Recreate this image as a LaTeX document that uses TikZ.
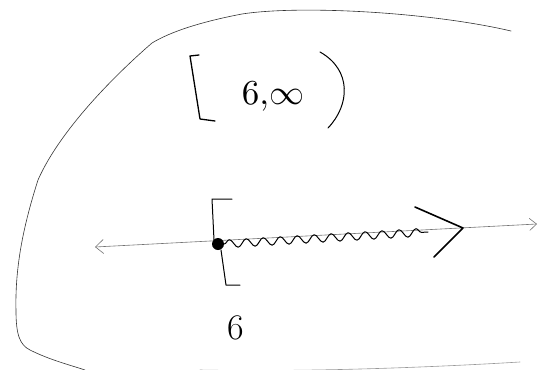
\documentclass[tikz,border=0pt]{standalone}
\usetikzlibrary{decorations.pathmorphing,arrows.meta}
\begin{document}
\begin{tikzpicture}[x=1pt,y=-1pt,
  pen/.style={line width=1.3pt,line cap=round,line join=round},
  thin pen/.style={line width=0.6pt,draw=black!70,line cap=round},
  txt/.style={inner sep=0pt,font=\fontsize{36}{40}\selectfont},
  mtxt/.style={inner sep=0pt,scale=3.5}]
\useasboundingbox (0,0) rectangle (539,370);
% boundary
\draw[thin pen,draw=black!80] (511,31) .. controls (430,12) and (300,5) .. (242,14)
  .. controls (200,22) and (170,32) .. (152,43)
  .. controls (115,75) and (60,130) .. (38,180)
  .. controls (22,230) and (15,270) .. (16,311)
  .. controls (16,335) and (20,345) .. (30,350)
  .. controls (50,360) and (70,365) .. (85,370);
\draw[thin pen,draw=black!40] (200,370) .. controls (300,372) and (420,368) .. (520,362);
% interval notation
\draw[pen] (199,55) -- (190,56) -- (200,119) -- (215,121);
\node[mtxt] (int) at (273,97) {$6,\!\infty$};
\draw[pen,line width=1pt] (320,52) .. controls (352,70) and (350,105) .. (328,128);
% number line
\coordinate (L) at (95,247);
\coordinate (R) at (537,224);
\draw[thin pen,draw=black!55,{Straight Barb[length=8pt,width=14pt]}-{Straight Barb[length=7pt,width=12pt]}] (L) -- (R);
\node[circle,fill=black,inner sep=0pt,minimum size=12pt] (dot) at (218,244) {};
\coordinate (W) at (428,232);
\draw[pen,line width=1pt,decorate,decoration={snake,segment length=17pt,amplitude=4pt}] (dot.east) -- (W);
% closed bracket at dot
\draw[pen,line width=1pt] (232,199) -- (212,199) -- (214,240);
\draw[pen,line width=1pt] (221,250) -- (226,285) -- (240,285);
% shading arrow
\draw[pen,line width=1.6pt] (415,207) -- (463,228) -- (434,257);
\node[txt] (lab) at (236,328) {6};
\end{tikzpicture}
\end{document}
